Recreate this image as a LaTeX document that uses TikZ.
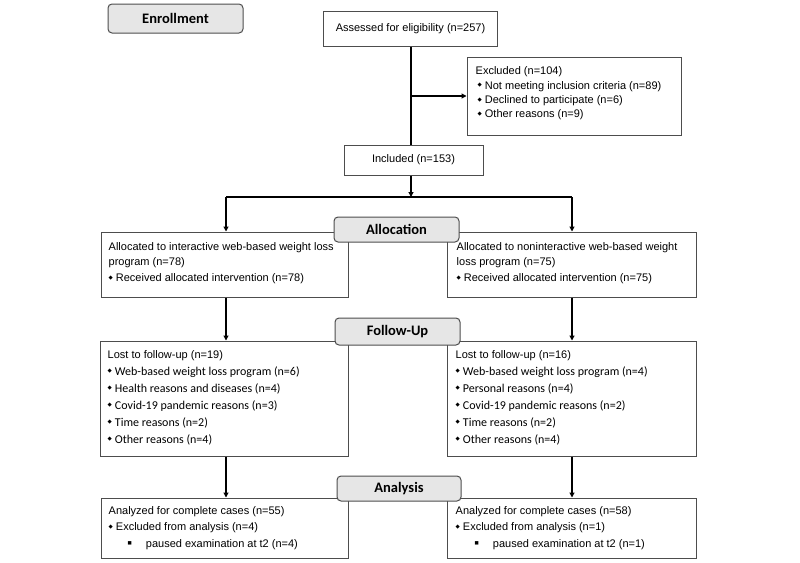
\documentclass[tikz,border=0pt]{standalone}
\usepackage{fontspec}
\setmainfont{Liberation Sans}
\newfontfamily\calfont{Carlito}
\newfontfamily\djvfont{DejaVu Sans}
\usetikzlibrary{arrows.meta}
\definecolor{boxc}{HTML}{4D4D4D}
\definecolor{labfill}{HTML}{E6E6E6}
\newcommand\dia{\raisebox{0.2em}{\djvfont\fontsize{5.5}{5.5}\selectfont ◆}\hspace{3pt}}
\newcommand\sqb{\raisebox{0.25em}{\djvfont\fontsize{4.5}{4.5}\selectfont ■}}
\newcommand\cl[1]{{\calfont\fontsize{12}{17}\selectfont\dia #1}}
\begin{document}
\begin{tikzpicture}[x=1pt,y=-1pt,
  bx/.style={draw=boxc, line width=1pt, inner sep=0pt, fill=white,
    font=\fontsize{11}{13}\selectfont},
  lab/.style={draw=boxc, fill=labfill, rounded corners=4pt, line width=1pt,
    inner sep=0pt, font=\calfont\bfseries\fontsize{14.5}{16}\selectfont},
  tx/.style={anchor=west, align=left, inner sep=0pt},
  arr/.style={-{Triangle[length=5pt,width=5pt]}, line width=1.1pt},
  ln/.style={line width=1.1pt}]
\useasboundingbox (0,0) rectangle (800,562);

% enrollment stage
\node[bx, minimum width=174pt, minimum height=35pt] (assess) at (410.5,28.5) {Assessed for eligibility (n=257)};
\node[bx, minimum width=214pt, minimum height=78pt] (excl) at (574,96) {};
\node[tx, font=\fontsize{11}{14.3}\selectfont] (exclt) at ([xshift=9pt,yshift=2.5pt]excl.west)
  {Excluded (n=104)\\
   \hspace*{2pt}\dia Not meeting inclusion criteria (n=89)\\
   \hspace*{2pt}\dia Declined to participate (n=6)\\
   \hspace*{2pt}\dia Other reasons (n=9)};
\node[bx, minimum width=139pt, minimum height=30pt] (incl) at (413.5,160) {Included (n=153)};

\coordinate (trunk) at (411,0);
\coordinate (split) at (411,197);
\coordinate (brL) at (226,197);
\coordinate (brR) at (572,197);

% allocation
\node[bx, minimum width=247pt, minimum height=65pt] (allocL) at (224.5,264.5) {};
\node[tx, font=\fontsize{11}{15.5}\selectfont] (allocLt) at ([xshift=8pt,yshift=1.5pt]allocL.west)
  {Allocated to interactive web-based weight loss\\
   program (n=78)\\
   \dia Received allocated intervention (n=78)};
\node[bx, minimum width=249pt, minimum height=65pt] (allocR) at (571.5,264.5) {};
\node[tx, font=\fontsize{11}{15.5}\selectfont] (allocRt) at ([xshift=10pt,yshift=1.5pt]allocR.west)
  {Allocated to noninteractive web-based weight\\
   loss program (n=75)\\
   \dia Received allocated intervention (n=75)};

% follow-up
\node[bx, minimum width=248pt, minimum height=115pt] (followL) at (224,398.5) {};
\node[tx, font=\fontsize{11}{17}\selectfont] (followLt) at ([xshift=8pt,yshift=1pt]followL.west)
  {Lost to follow-up (n=19)\\
   \cl{Web-based weight loss program (n=6)}\\
   \cl{Health reasons and diseases (n=4)}\\
   \cl{Covid-19 pandemic reasons (n=3)}\\
   \cl{Time reasons (n=2)}\\
   \cl{Other reasons (n=4)}};
\node[bx, minimum width=249pt, minimum height=115pt] (followR) at (571.5,398.5) {};
\node[tx, font=\fontsize{11}{17}\selectfont] (followRt) at ([xshift=9pt,yshift=1pt]followR.west)
  {Lost to follow-up (n=16)\\
   \cl{Web-based weight loss program (n=4)}\\
   \cl{Personal reasons (n=4)}\\
   \cl{Covid-19 pandemic reasons (n=2)}\\
   \cl{Time reasons (n=2)}\\
   \cl{Other reasons (n=4)}};

% analysis
\node[bx, minimum width=247pt, minimum height=60pt] (analL) at (224.5,528) {};
\node[tx, font=\fontsize{11}{16.5}\selectfont] (analLt) at ([xshift=8pt]analL.west)
  {Analyzed for complete cases (n=55)\\
   \dia Excluded from analysis (n=4)\\
   \hspace*{19pt}\sqb\hspace{14pt}paused examination at t2 (n=4)};
\node[bx, minimum width=249pt, minimum height=60pt] (analR) at (571.5,528) {};
\node[tx, font=\fontsize{11}{16.5}\selectfont] (analRt) at ([xshift=9pt]analR.west)
  {Analyzed for complete cases (n=58)\\
   \dia Excluded from analysis (n=1)\\
   \hspace*{19pt}\sqb\hspace{14pt}paused examination at t2 (n=1)};

% connectors
\draw[ln] (trunk |- assess.south) -- (trunk |- incl.north);
\draw[arr] (trunk |- excl.west) -- (excl.west);
\draw[arr] (trunk |- incl.south) -- (split);
\draw[ln] (brL) -- (brR);
\draw[arr] (brL) -- (brL |- allocL.north);
\draw[arr] (brR) -- (brR |- allocR.north);
\draw[arr] (brL |- allocL.south) -- (brL |- followL.north);
\draw[arr] (brR |- allocR.south) -- (brR |- followR.north);
\draw[arr] (brL |- followL.south) -- (brL |- analL.north);
\draw[arr] (brR |- followR.south) -- (brR |- analR.north);

% stage labels
\node[lab, minimum width=135pt, minimum height=29pt] (enroll) at (175.5,18.5) {Enrollment};
\node[lab, minimum width=125pt, minimum height=25pt] (allocation) at (396.5,229.5) {Allocation};
\node[lab, minimum width=125pt, minimum height=27pt] (followup) at (397.5,331.5) {Follow-Up};
\node[lab, minimum width=124pt, minimum height=25pt] (analysis) at (399,488.5) {Analysis};
\end{tikzpicture}
\end{document}
